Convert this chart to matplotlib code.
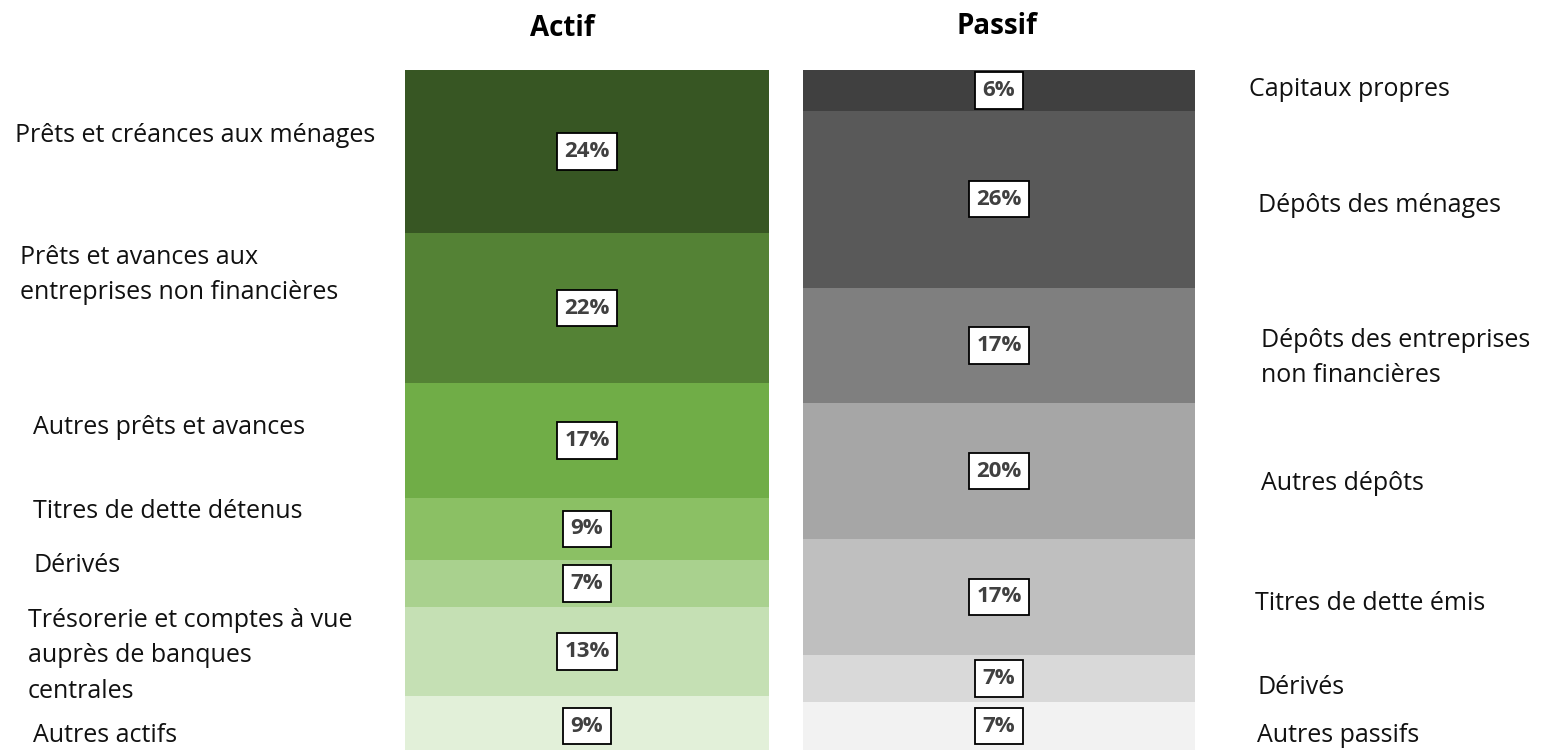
import matplotlib.pyplot as plt
import numpy as np

# data
actif_labels = ["Prêts et créances aux ménages",
                "Prêts et avances aux\nentreprises non financières",
                "Autres prêts et avances",
                "Titres de dette détenus",
                "Dérivés",
                "Trésorerie et comptes à vue\nauprès de banques\ncentrales",
                "Autres actifs"]
actif_values = [24, 22, 17, 9, 7, 13, 9]

passif_labels = ["Capitaux propres",
                 "Dépôts des ménages",
                 "Dépôts des entreprises\nnon financières",
                 "Autres dépôts",
                 "Titres de dette émis",
                 "Dérivés",
                 "Autres passifs"]
passif_values = [6, 26, 17, 20, 17, 7, 7]

# styles
actif_colors = ['#375623', '#548235', '#70AD47', '#8BC064', '#A9D18E', '#C5E0B4', '#E2F0D9']
passif_colors = ['#404040', '#595959', '#7F7F7F', '#A6A6A6', '#BFBFBF', '#D9D9D9', '#F2F2F2']

# label anchor positions in figure pixels (x left, y centre from top)
actif_label_pos = [(15, 136), (20, 275), (33, 427), (33, 512), (33, 566), (28, 656), (33, 735)]
passif_label_pos = [(1249, 90), (1258, 206), (1261, 358), (1261, 484), (1255, 604), (1257, 687), (1257, 736)]

W, H = 1549, 750
FONT = 'Open Sans'

fig = plt.figure(figsize=(W / 100, H / 100), dpi=100)


def stacked_bar(left_px, width_px, values, colors):
	ax = fig.add_axes([left_px / W, 0, width_px / W, 1 - 70 / H])
	bottoms = np.concatenate([[0], np.cumsum(values)[:-1]])
	ax.bar(0, values, bottom=bottoms, width=1, color=colors, linewidth=0)
	for b, v in zip(bottoms, values):
		ax.text(0, b + v / 2, str(v) + '%', ha='center', va='center',
			fontsize=16, fontweight='bold', color='#404040', family=FONT,
			bbox=dict(boxstyle='square,pad=0.35', fc='white', ec='black', lw=1.3))
	ax.set_xlim(-0.5, 0.5)
	ax.set_ylim(100, 0)
	ax.axis('off')
	return ax


stacked_bar(405, 364, actif_values, actif_colors)
stacked_bar(803, 392, passif_values, passif_colors)

fig.text(562 / W, 1 - 29 / H, 'Actif', ha='center', va='center',
	fontsize=20, fontweight='bold', family=FONT)
fig.text(997 / W, 1 - 27 / H, 'Passif', ha='center', va='center',
	fontsize=20, fontweight='bold', family=FONT)

for lab, (x, y) in zip(actif_labels + passif_labels, actif_label_pos + passif_label_pos):
	fig.text(x / W, 1 - y / H, lab, ha='left', va='center', fontsize=18,
		family=FONT, color='#111111', linespacing=1.55)

plt.savefig('out.png', dpi=100)
